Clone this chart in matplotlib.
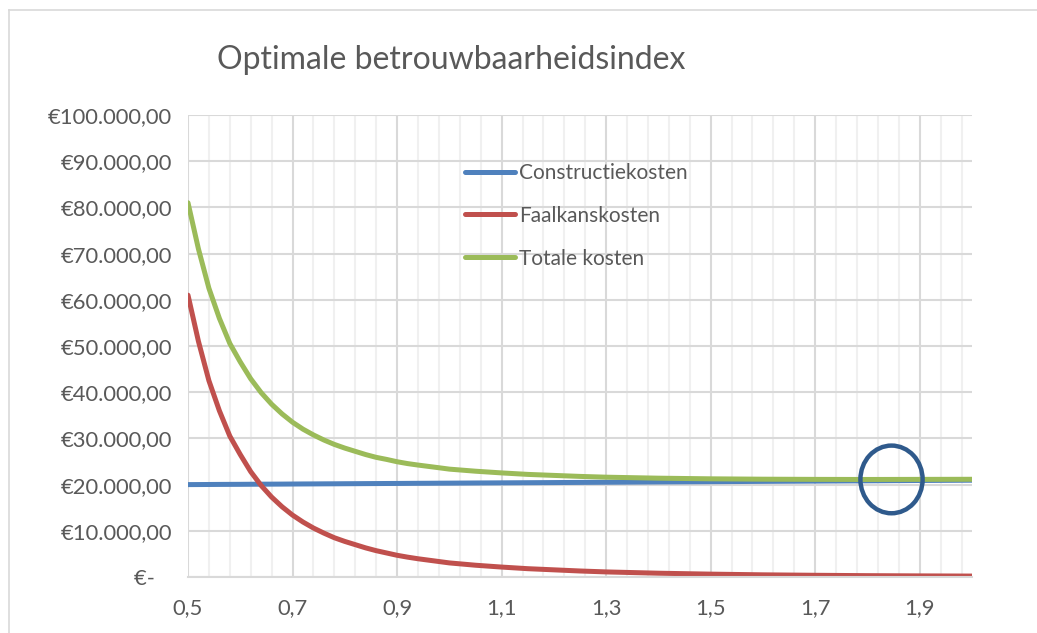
import matplotlib.pyplot as plt
from matplotlib.patches import Ellipse
from matplotlib.lines import Line2D
from matplotlib.ticker import FixedLocator, FuncFormatter
import numpy as np

beta = [0.50, 0.52, 0.54, 0.56, 0.58, 0.60, 0.62, 0.64, 0.66, 0.68,
        0.70, 0.72, 0.74, 0.76, 0.78, 0.80, 0.82, 0.84, 0.86, 0.88,
        0.90, 0.92, 0.94, 0.96, 0.98, 1.00, 1.05, 1.10, 1.15, 1.20,
        1.25, 1.30, 1.40, 1.50, 1.60, 1.70, 1.80, 1.90, 2.00]
constructiekosten = [20000, 20010, 20025, 20040, 20050, 20060, 20075, 20090, 20100, 20110,
                     20125, 20140, 20150, 20165, 20175, 20190, 20200, 20215, 20225, 20240,
                     20250, 20265, 20280, 20290, 20305, 20315, 20350, 20380, 20410, 20440,
                     20475, 20505, 20570, 20630, 20700, 20760, 20820, 20890, 20950]
faalkanskosten = [61000, 51000, 42500, 36000, 30500, 26500, 22800, 19800, 17300, 15200,
                  13400, 11900, 10600, 9500, 8500, 7700, 7000, 6300, 5700, 5200,
                  4700, 4300, 3950, 3650, 3350, 3050, 2550, 2150, 1800, 1550,
                  1300, 1100, 820, 620, 470, 370, 290, 240, 200]
totale_kosten = [81000, 71000, 62500, 56000, 50550, 46550, 42900, 39900, 37400, 35300,
                 33500, 32000, 30750, 29650, 28700, 27900, 27200, 26500, 25900, 25450,
                 24950, 24550, 24230, 23940, 23650, 23350, 22900, 22530, 22210, 21990,
                 21775, 21605, 21390, 21250, 21170, 21130, 21110, 21130, 21150]

series_names = ["Constructiekosten", "Faalkanskosten", "Totale kosten"]
colors = ["#4F81BD", "#C0504D", "#9BBB59"]
optimum_beta = 1.846

grey = "#595959"
plt.rcParams["font.family"] = ["Lato", "DejaVu Sans"]

fig = plt.figure(figsize=(10.37, 6.33), dpi=100)
ax = fig.add_axes([188 / 1037, 56 / 633, 784 / 1037, 462 / 633])

for name, vals, c in zip(series_names, [constructiekosten, faalkanskosten, totale_kosten], colors):
    ax.plot(beta, vals, color=c, lw=3.6, label=name, solid_capstyle="round",
            solid_joinstyle="round")

# circle around the optimum
opt_y = np.interp(optimum_beta, beta, totale_kosten)
ax.add_patch(Ellipse((optimum_beta, opt_y), 0.119, 14650, fill=False,
                     ec="#2F5A8C", lw=3.2, zorder=5))

ax.set_xlim(0.5, 2.0)
ax.set_ylim(0, 100000)
ax.xaxis.set_major_locator(FixedLocator(np.arange(0.5, 1.99, 0.2)))
ax.xaxis.set_minor_locator(FixedLocator(np.arange(0.5, 1.99, 0.04)))
ax.yaxis.set_major_locator(FixedLocator(np.arange(0, 100001, 10000)))
ax.xaxis.set_major_formatter(FuncFormatter(lambda v, p: f"{v:.1f}".replace(".", ",")))


def euro(v, p):
    if v == 0:
        return "€-   "
    s = f"{v:,.2f}".replace(",", "X").replace(".", ",").replace("X", ".")
    return "€" + s


ax.yaxis.set_major_formatter(FuncFormatter(euro))
ax.grid(True, which="major", axis="both", color="#D9D9D9", lw=1.5)
ax.grid(True, which="minor", axis="x", color="#F0F0F0", lw=1.5)
ax.set_axisbelow(True)
for s in ["top", "right", "left"]:
    ax.spines[s].set_visible(False)
ax.spines["bottom"].set_color("#D9D9D9")
ax.spines["bottom"].set_linewidth(1.5)
ax.tick_params(axis="both", which="both", length=0, labelsize=15.8, labelcolor=grey)
ax.tick_params(axis="x", pad=15)
ax.tick_params(axis="y", pad=11.5)

ax.legend(loc="upper left", bbox_to_anchor=(0.353, 0.8965), frameon=False, fontsize=15,
          handlelength=2.4, handletextpad=0.2, labelspacing=1.1, borderpad=0,
          borderaxespad=0, labelcolor=grey)

fig.text(451 / 1037, 1 - 60 / 633, "Optimale betrouwbaarheidsindex", ha="center", va="center",
         fontsize=23, color=grey, fontweight="normal")

# chart frame
fig.add_artist(Line2D([9 / 1037, 1], [1 - 10 / 633, 1 - 10 / 633], color="#D9D9D9", lw=1.2))
fig.add_artist(Line2D([9 / 1037, 9 / 1037], [0, 1 - 10 / 633], color="#D9D9D9", lw=1.2))

fig.savefig("out.png", dpi=100)
